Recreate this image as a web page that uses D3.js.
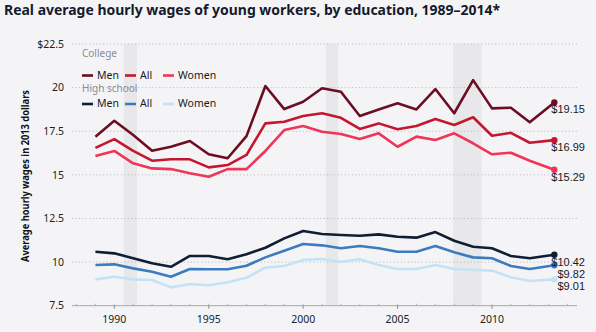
<!DOCTYPE html>
<html><head><meta charset="utf-8">
<script src="https://cdn.jsdelivr.net/npm/d3@7"></script>
<style>
html,body{margin:0;padding:0;background:#f4f4f7;}
svg{display:block;font-family:"Noto Sans","Open Sans",sans-serif;}
</style></head>
<body><svg id="c" width="596" height="332"></svg>
<script>
const years = [1989,1990,1991,1992,1993,1994,1995,1996,1997,1998,1999,2000,2001,2002,2003,2004,2005,2006,2007,2008,2009,2010,2011,2012,2013.3];
const collegeMen   = [17.19,18.10,17.28,16.38,16.61,16.94,16.18,15.95,17.22,20.09,18.77,19.19,19.96,19.76,18.37,18.75,19.10,18.75,19.92,18.53,20.43,18.81,18.85,18.01,19.15];
const collegeAll   = [16.55,17.05,16.37,15.81,15.89,15.89,15.43,15.56,16.14,17.95,18.04,18.37,18.53,18.27,17.63,17.95,17.61,17.80,18.20,17.86,18.30,17.24,17.41,16.84,16.99];
const collegeWomen = [16.08,16.37,15.66,15.37,15.33,15.09,14.89,15.33,15.33,16.37,17.57,17.80,17.47,17.34,17.05,17.38,16.61,17.19,17.00,17.38,16.81,16.18,16.27,15.81,15.29];
const hsMen   = [10.59,10.50,10.22,9.93,9.73,10.35,10.35,10.16,10.45,10.82,11.36,11.78,11.61,11.55,11.51,11.59,11.45,11.40,11.72,11.22,10.88,10.79,10.35,10.22,10.42];
const hsAll   = [9.83,9.87,9.64,9.45,9.16,9.60,9.59,9.59,9.79,10.27,10.65,11.04,10.96,10.79,10.92,10.79,10.59,10.59,10.92,10.56,10.27,10.22,9.78,9.60,9.82];
const hsWomen = [9.01,9.16,9.01,8.97,8.55,8.74,8.67,8.84,9.10,9.68,9.78,10.12,10.18,10.02,10.16,9.83,9.60,9.60,9.83,9.60,9.55,9.51,9.13,8.92,9.01];
const endLabels = {collegeMen:"$19.15", collegeAll:"$16.99", collegeWomen:"$15.29", hsMen:"$10.42", hsAll:"$9.82", hsWomen:"$9.01"};
const recessions = [[1990.5,1991.2],[2001.2,2001.85],[2007.95,2009.45]];
const yTicks = [7.5,10,12.5,15,17.5,20,22.5];
const yTickLabels = ["7.5","10","12.5","15","17.5","20","$22.5"];
const xTicks = [1990,1995,2000,2005,2010];
const title = "Real average hourly wages of young workers, by education, 1989–2014*";
const yTitle = "Average hourly wages in 2013 dollars";
const groupNames = ["College","High school"];
const legendNames = ["Men","All","Women"];

const series = [
  {key:"hsWomen", vals:hsWomen, color:"#c4e2f5", group:1, idx:2},
  {key:"hsAll", vals:hsAll, color:"#3b7cc0", group:1, idx:1},
  {key:"hsMen", vals:hsMen, color:"#0f1e33", group:1, idx:0},
  {key:"collegeWomen", vals:collegeWomen, color:"#ef3558", group:0, idx:2},
  {key:"collegeAll", vals:collegeAll, color:"#c4172f", group:0, idx:1},
  {key:"collegeMen", vals:collegeMen, color:"#6c0d22", group:0, idx:0}
];

const svg = d3.select("#c");
const x = d3.scaleLinear().domain([1990,2010]).range([114.3,492]);
const y = d3.scaleLinear().domain([7.5,22.5]).range([305.7,44]);
const xL = x(1987.75), xR = x(2014.5);

svg.append("rect").attr("width",596).attr("height",332).attr("fill","#f4f4f7");

// recession shading
svg.append("g").selectAll("rect").data(recessions).join("rect")
  .attr("x",d=>x(d[0])).attr("width",d=>x(d[1])-x(d[0]))
  .attr("y",y(22.5)).attr("height",y(7.5)-y(22.5)).attr("fill","#e8e8eb");

// gridlines
svg.append("g").selectAll("line").data(yTicks.filter(t=>t>7.5)).join("line")
  .attr("x1",xL).attr("x2",xR).attr("y1",d=>y(d)).attr("y2",d=>y(d))
  .attr("stroke","#b5b5b8").attr("stroke-width",1).attr("stroke-dasharray","1,2.5");

// x axis line
svg.append("line").attr("x1",xL).attr("x2",xR).attr("y1",y(7.5)).attr("y2",y(7.5))
  .attr("stroke","#a8a8ab").attr("stroke-width",1);
svg.append("g").selectAll("line").data(d3.range(1988,2015)).join("line")
  .attr("x1",d=>x(d)).attr("x2",d=>x(d)).attr("y1",y(7.5)-2).attr("y2",y(7.5))
  .attr("stroke","#a8a8ab").attr("stroke-width",0.8);
svg.append("g").selectAll("line").data(xTicks).join("line")
  .attr("x1",d=>x(d)).attr("x2",d=>x(d)).attr("y1",y(7.5)).attr("y2",y(7.5)+3)
  .attr("stroke","#8a8a8d").attr("stroke-width",1);

// x tick labels
svg.append("g").selectAll("text").data(xTicks).join("text")
  .attr("x",d=>x(d)).attr("y",323).attr("text-anchor","middle")
  .attr("font-size",10.5).attr("fill","#222").text(d=>d);

// y tick labels
svg.append("g").selectAll("text").data(yTicks).join("text")
  .attr("x",64).attr("y",d=>y(d)).attr("dy","0.35em").attr("text-anchor","end")
  .attr("font-size",10.5).attr("fill","#222").text((d,i)=>yTickLabels[i]);

// y title
svg.append("text").attr("transform","translate(29,176) rotate(-90)")
  .attr("text-anchor","middle").attr("font-weight","bold").attr("font-size",10.5)
  .attr("fill","#111").attr("textLength",172).attr("lengthAdjust","spacingAndGlyphs").text(yTitle);

// title
svg.append("text").attr("x",4).attr("y",15).attr("font-weight","bold").attr("font-size",15)
  .attr("fill","#151a2c").attr("textLength",496).attr("lengthAdjust","spacingAndGlyphs").text(title);

// lines
const line = d3.line().x((d,i)=>x(years[i])).y(d=>y(d));
svg.append("g").selectAll("path").data(series).join("path")
  .attr("d",d=>line(d.vals)).attr("fill","none").attr("stroke",d=>d.color)
  .attr("stroke-width",2.6).attr("stroke-linejoin","round");

// end dots
const last = years.length-1;
svg.append("g").selectAll("circle").data(series).join("circle")
  .attr("cx",x(years[last])).attr("cy",d=>y(d.vals[last])).attr("r",3.2).attr("fill",d=>d.color);

// end labels with simple collision avoidance
const labs = series.map(s=>({s, y:y(s.vals[last])+7})).sort((a,b)=>a.y-b.y);
for(let i=1;i<labs.length;i++){ if(labs[i].y-labs[i-1].y<12) labs[i].y=labs[i-1].y+12; }
svg.append("g").selectAll("text").data(labs).join("text")
  .attr("x",585).attr("y",d=>d.y).attr("dy","0.35em").attr("text-anchor","end")
  .attr("font-family","'Liberation Sans',Arial,sans-serif")
  .attr("font-size",11).attr("fill","#1a1a1a").text(d=>endLabels[d.s.key]);

// legend
const lg = svg.append("g");
const rowY = [75.5,104], headY = [57,92];
const colX = [82,125,163];
groupNames.forEach((g,gi)=>{
  lg.append("text").attr("x",82).attr("y",headY[gi]).attr("font-size",10).attr("fill","#8a8d96").text(g);
});
series.forEach(s=>{
  const cx = colX[s.idx], cy = rowY[s.group];
  lg.append("line").attr("x1",cx).attr("x2",cx+11).attr("y1",cy).attr("y2",cy)
    .attr("stroke",s.color).attr("stroke-width",2.6);
  lg.append("text").attr("x",cx+15).attr("y",cy).attr("dy","0.33em").attr("font-size",10.5)
    .attr("fill","#1a1a1a").text(legendNames[s.idx]);
});
</script></body></html>
